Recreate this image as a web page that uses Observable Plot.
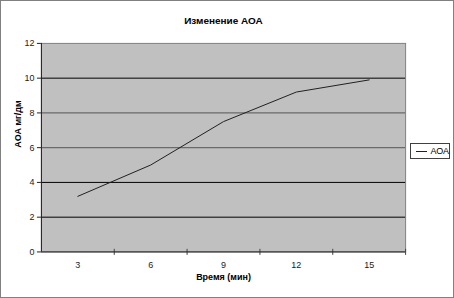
<!DOCTYPE html>
<html><head><meta charset="utf-8">
<script src="https://cdn.jsdelivr.net/npm/d3@7"></script>
<script src="https://cdn.jsdelivr.net/npm/@observablehq/plot@0.6"></script>
<style>
body{margin:0;background:#fff;}
#wrap{position:relative;width:454px;height:298px;box-sizing:border-box;border:1px solid #808080;font-family:"Liberation Sans",Arial,sans-serif;overflow:hidden;}
#chart{position:absolute;left:-1px;top:-1px;}
#legend{position:absolute;left:409px;top:142px;width:40px;height:16px;box-sizing:border-box;border:1px solid #404040;font-size:9px;display:flex;align-items:center;}
#legend span.sw{display:inline-block;width:14px;border-top:1px solid #202020;margin:0 3px 0 5px;}
</style></head>
<body><div id="wrap"><div id="chart"></div><div id="legend"><span class="sw"></span><span>АОА</span></div></div>
<script>
const title = "Изменение АОА";
const xLabel = "Время (мин)";
const yLabel = "АОА мг/дм";
const seriesName = "АОА";
const times = [3, 6, 9, 12, 15];
const aoa = [3.2, 5.0, 7.5, 9.2, 9.9];
const yTicks = [0, 2, 4, 6, 8, 10, 12];
const darkGrid = [2, 4, 10];
const lightGrid = [6, 8];

const data = times.map((t, i) => ({t, v: aoa[i]}));
const step = times[1] - times[0];
const boundaries = [times[0] - step/2, ...times.map(t => t + step/2)];

const chart = Plot.plot({
  width: 454, height: 298,
  marginLeft: 41, marginRight: 48, marginTop: 43, marginBottom: 46,
  style: {fontFamily: "Liberation Sans, Arial, sans-serif", fontSize: "9px", background: "transparent", overflow: "visible"},
  x: {type: "linear", domain: [boundaries[0], boundaries[boundaries.length-1]]},
  y: {domain: [0, 12]},
  marks: [
    Plot.frame({fill: "#c0c0c0", stroke: "#808080"}),
    Plot.ruleY(darkGrid, {stroke: "#000", strokeWidth: 1}),
    Plot.ruleY(lightGrid, {stroke: "#6a6a6a", strokeWidth: 1.2}),
    Plot.axisY({ticks: yTicks, tickSize: 4, tickPadding: 3, label: null, fill: "#222", stroke: "#222"}),
    Plot.axisX({ticks: times, tickSize: 0, tickPadding: 10, label: null, fill: "#222"}),
    Plot.ruleX(boundaries.slice(1), {x: d => d, y1: -0.2, y2: 0.15, stroke: "#444"}),
    Plot.ruleY([0], {stroke: "#222"}),
    Plot.ruleX([boundaries[0]], {stroke: "#222"}),
    Plot.line(data, {x: "t", y: "v", stroke: "#202020", strokeWidth: 1}),
    Plot.text([title], {frameAnchor: "top", dy: -27, fontWeight: "bold", fontSize: 10, fill: "#000"}),
    Plot.text([xLabel], {frameAnchor: "bottom", dy: 28, fontWeight: "bold", fontSize: 9, fill: "#000"}),
    Plot.text([yLabel], {frameAnchor: "left", dx: -23, rotate: -90, fontWeight: "bold", fontSize: 9, fill: "#000"})
  ]
});
document.getElementById("chart").appendChild(chart);
</script></body></html>
